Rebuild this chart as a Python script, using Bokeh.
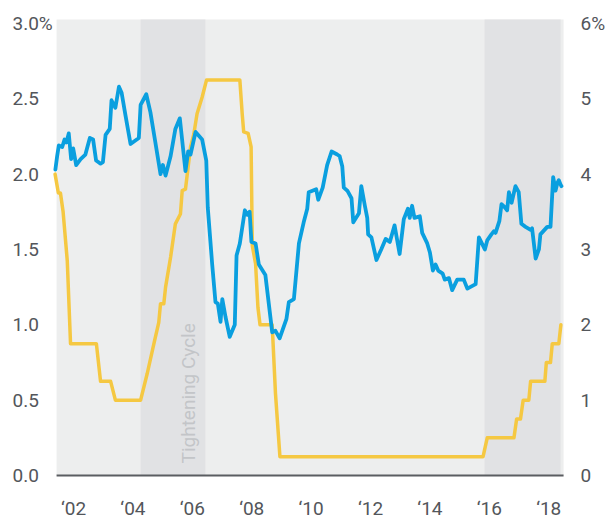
from bokeh.plotting import figure
from bokeh.models import Range1d, Label
from bokeh.embed import file_html
from bokeh.resources import INLINE

# ---------------- data ----------------
breakeven_years = [
    2001.39, 2001.45, 2001.505, 2001.62, 2001.70, 2001.76, 2001.84, 2001.92, 2001.99,
    2002.09, 2002.24, 2002.40, 2002.55, 2002.66, 2002.76, 2002.91, 2002.99,
    2003.08, 2003.22, 2003.28, 2003.41, 2003.53, 2003.62, 2003.75, 2003.92,
    2004.20, 2004.26, 2004.45, 2004.59, 2004.74, 2004.93,
    2005.01, 2005.10, 2005.27, 2005.43, 2005.58, 2005.77, 2005.86, 2005.94,
    2006.11, 2006.33, 2006.47, 2006.52, 2006.67, 2006.78, 2006.86, 2006.95,
    2007.01, 2007.12, 2007.26, 2007.43, 2007.49, 2007.60, 2007.77, 2007.85, 2007.93, 2007.99,
    2008.13, 2008.24, 2008.46, 2008.69, 2008.80, 2008.94,
    2009.17, 2009.25, 2009.42, 2009.59, 2009.75, 2009.87, 2009.92,
    2010.17, 2010.24, 2010.39, 2010.54, 2010.69, 2010.88, 2010.96,
    2011.05, 2011.10, 2011.22, 2011.36, 2011.42, 2011.61, 2011.69, 2011.81, 2011.89, 2011.92,
    2012.03, 2012.20, 2012.36, 2012.51, 2012.65, 2012.81, 2012.98,
    2013.12, 2013.26, 2013.32, 2013.40, 2013.48, 2013.66, 2013.74, 2013.91,
    2014.00, 2014.10, 2014.19, 2014.28, 2014.43, 2014.50, 2014.64, 2014.75, 2014.92,
    2015.14, 2015.26, 2015.54, 2015.65, 2015.70, 2015.85, 2015.93,
    2016.07, 2016.15, 2016.21, 2016.34, 2016.41, 2016.52, 2016.60, 2016.66, 2016.75, 2016.88, 2016.99,
    2017.08, 2017.22, 2017.39, 2017.44, 2017.56, 2017.67, 2017.72, 2017.95,
    2018.06, 2018.15, 2018.23, 2018.29, 2018.34, 2018.40, 2018.43,
]
breakeven_values = [
    2.03, 2.12, 2.19, 2.18, 2.23, 2.21, 2.27, 2.10, 2.17,
    2.06, 2.10, 2.13, 2.24, 2.23, 2.09, 2.07, 2.08,
    2.26, 2.30, 2.49, 2.44, 2.58, 2.54, 2.39, 2.20,
    2.24, 2.46, 2.53, 2.41, 2.23, 2.00,
    2.06, 1.99, 2.12, 2.30, 2.37, 2.02, 2.15, 2.13,
    2.28, 2.23, 2.09, 1.78, 1.40, 1.15, 1.14, 1.02,
    1.17, 1.05, 0.92, 1.00, 1.46, 1.54, 1.76, 1.73, 1.75, 1.55,
    1.54, 1.40, 1.33, 0.95, 0.96, 0.91,
    1.04, 1.15, 1.17, 1.54, 1.68, 1.77, 1.88,
    1.90, 1.83, 1.91, 2.06, 2.15, 2.13, 2.12,
    2.05, 1.91, 1.89, 1.84, 1.68, 1.74, 1.92, 1.79, 1.71, 1.60,
    1.58, 1.43, 1.50, 1.57, 1.55, 1.66, 1.47,
    1.70, 1.77, 1.71, 1.79, 1.71, 1.72, 1.61, 1.54,
    1.48, 1.36, 1.40, 1.36, 1.34, 1.30, 1.31, 1.23, 1.30,
    1.30, 1.24, 1.27, 1.58, 1.56, 1.50, 1.56,
    1.60, 1.62, 1.61, 1.69, 1.80, 1.78, 1.76, 1.88, 1.81, 1.92, 1.88,
    1.67, 1.65, 1.63, 1.64, 1.44, 1.50, 1.60, 1.65,
    1.65, 1.98, 1.89, 1.94, 1.96, 1.93, 1.92,
]

fed_years = [
    2001.38, 2001.49, 2001.56, 2001.65, 2001.79, 2001.90, 2002.77, 2002.91, 2003.25, 2003.41,
    2004.26, 2004.48, 2004.73, 2004.87, 2004.93, 2005.04, 2005.10, 2005.27, 2005.43, 2005.60,
    2005.66, 2005.77, 2005.94, 2006.05, 2006.16, 2006.33, 2006.48, 2007.60, 2007.68, 2007.73,
    2007.88, 2007.98, 2008.02, 2008.13, 2008.21, 2008.28, 2008.69, 2008.80, 2008.95, 2015.79,
    2015.93, 2016.83, 2016.92, 2017.05, 2017.14, 2017.33, 2017.39, 2017.87, 2017.92, 2018.06,
    2018.12, 2018.34, 2018.41,
]
fed_values = [
    4.00, 3.75, 3.75, 3.50, 2.85, 1.75, 1.75, 1.25, 1.25, 1.00,
    1.00, 1.35, 1.79, 2.03, 2.28, 2.28, 2.50, 2.90, 3.34, 3.47,
    3.78, 3.80, 4.36, 4.53, 4.80, 5.02, 5.25, 5.25, 4.80, 4.56,
    4.54, 4.36, 3.05, 2.81, 2.23, 2.00, 2.00, 1.09, 0.25, 0.25,
    0.50, 0.50, 0.75, 0.75, 1.00, 1.00, 1.25, 1.25, 1.50, 1.50,
    1.75, 1.75, 2.00,
]

tightening_starts = [2004.26, 2015.84]
tightening_ends = [2006.44, 2018.40]
chart_start, chart_end = 2001.43, 2018.50
chart_top = 3.026

x_ticks = [2002, 2004, 2006, 2008, 2010, 2012, 2014, 2016, 2018]
x_tick_labels = ["\u201802", "\u201804", "\u201806", "\u201808", "\u201810",
                 "\u201812", "\u201814", "\u201816", "\u201818"]
left_ticks = [0.0, 0.5, 1.0, 1.5, 2.0, 2.5, 3.0]
left_tick_labels = ["0.0", "0.5", "1.0", "1.5", "2.0", "2.5", "3.0%"]
right_ticks = [0, 1, 2, 3, 4, 5, 6]
right_tick_labels = ["0", "1", "2", "3", "4", "5", "6%"]

# ---------------- layout / style ----------------
BLUE = "#0a9fdf"
YELLOW = "#f5c842"
BG = "#edeeee"
DARK = "#e1e2e4"
TXT = "#53565b"
AXIS = "#5a5d61"
FONT = "Roboto"
TICK_SIZE = "19px"

X0, X1 = 1999.542, 2020.013          # visible x extent (whole canvas)
Y0, Y1 = -0.2986, 3.152              # visible left-scale extent (whole canvas)
LEFT_LABEL_X = 1999.946
RIGHT_LABEL_X = 2019.071
X_LABEL_Y = -0.219

p = figure(width=608, height=520, output_backend="svg", toolbar_location=None,
           x_range=Range1d(X0, X1), y_range=Range1d(Y0, Y1),
           x_axis_location=None, y_axis_location=None,
           min_border=0, min_border_left=0, min_border_right=0,
           min_border_top=0, min_border_bottom=0)
p.extra_y_ranges = {"right": Range1d(2 * Y0, 2 * Y1)}
p.outline_line_color = None
p.xgrid.visible = False
p.ygrid.visible = False
p.background_fill_color = "white"
p.border_fill_color = "white"

# backgrounds
p.quad(left=[chart_start], right=[chart_end], bottom=[0], top=[chart_top],
       fill_color=BG, line_color=None)
p.quad(left=tightening_starts, right=tightening_ends, bottom=[0, 0],
       top=[chart_top, chart_top], fill_color=DARK, line_color=None)

# lines
p.line(fed_years, fed_values, y_range_name="right", line_color=YELLOW,
       line_width=3.5, line_join="round", line_cap="round")
p.line(breakeven_years, breakeven_values, line_color=BLUE,
       line_width=3.8, line_join="round", line_cap="round")

# baseline (x axis line)
p.line([chart_start, chart_end], [0, 0], line_color=AXIS, line_width=2)

# x tick labels
for v, t in zip(x_ticks, x_tick_labels):
    p.add_layout(Label(x=v, y=X_LABEL_Y, text=t, text_align="center", text_baseline="middle",
                       text_font=FONT, text_font_size=TICK_SIZE, text_color=TXT))

# left tick labels (left aligned)
for v, t in zip(left_ticks, left_tick_labels):
    p.add_layout(Label(x=LEFT_LABEL_X, y=v, text=t, text_align="left", text_baseline="middle",
                       text_font=FONT, text_font_size=TICK_SIZE, text_color=TXT))

# right tick labels
for v, t in zip(right_ticks, right_tick_labels):
    p.add_layout(Label(x=RIGHT_LABEL_X, y=v, y_range_name="right", text=t,
                       text_align="left", text_baseline="middle",
                       text_font=FONT, text_font_size=TICK_SIZE, text_color=TXT))

p.add_layout(Label(x=2005.87, y=0.08, text="Tightening Cycle", angle=90, angle_units="deg",
                   text_align="left", text_baseline="middle", text_font=FONT,
                   text_font_size="19px", text_color="#c3c5c8"))

open("out.html", "w").write(file_html(p, INLINE))
